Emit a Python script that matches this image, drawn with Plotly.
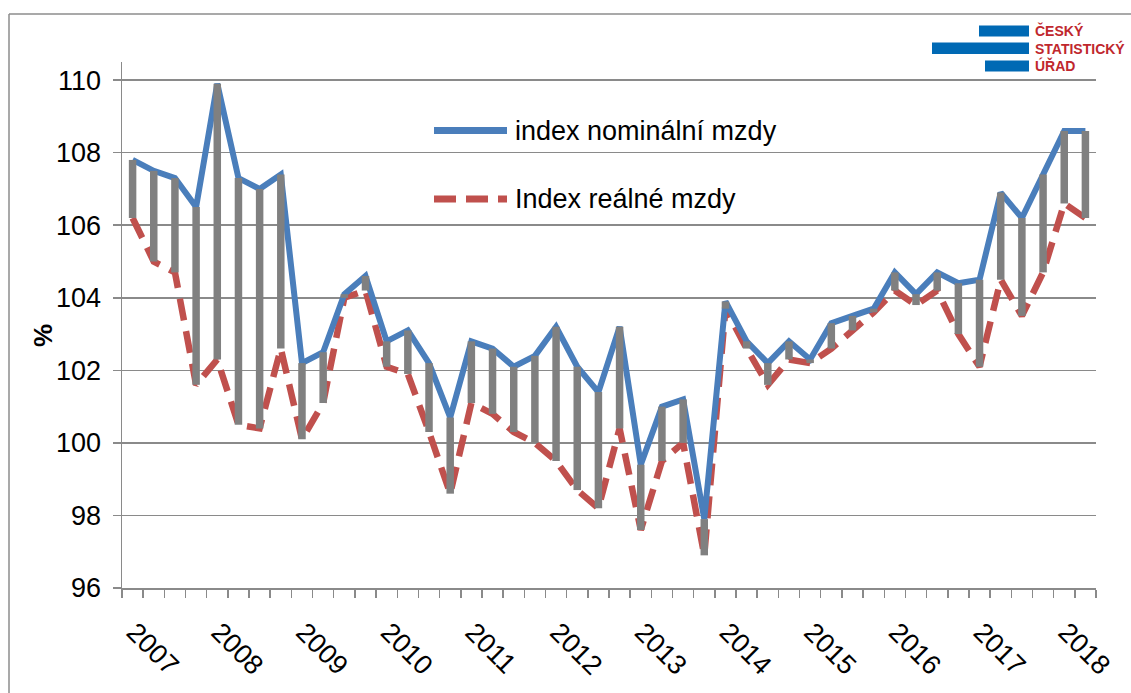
import plotly.graph_objects as go

# ---- data ----
years = ["2007", "2008", "2009", "2010", "2011", "2012", "2013", "2014", "2015", "2016", "2017", "2018"]
nominal = [107.8, 107.5, 107.3, 106.5, 109.9, 107.3, 107.0, 107.4, 102.2, 102.5,
           104.1, 104.6, 102.8, 103.1, 102.2, 100.7, 102.8, 102.6, 102.1, 102.4,
           103.2, 102.1, 101.4, 103.2, 99.4, 101.0, 101.2, 97.9, 103.9, 102.8,
           102.2, 102.8, 102.3, 103.3, 103.5, 103.7, 104.7, 104.1, 104.7, 104.4,
           104.5, 106.9, 106.2, 107.4, 108.6, 108.6]
real = [106.2, 105.0, 104.7, 101.6, 102.3, 100.5, 100.4, 102.6, 100.1, 101.1,
        104.0, 104.2, 102.1, 101.9, 100.3, 98.6, 101.1, 100.8, 100.3, 100.0,
        99.5, 98.7, 98.2, 100.4, 97.6, 99.5, 100.0, 96.9, 103.7, 102.6,
        101.6, 102.3, 102.2, 102.6, 103.1, 103.6, 104.2, 103.8, 104.2, 103.0,
        102.1, 104.5, 103.5, 104.7, 106.6, 106.2]
name_nominal = "index nominální mzdy"
name_real = "Index reálné mzdy"
y_title = "%"
logo_lines = ["ČESKÝ", "STATISTICKÝ", "ÚŘAD"]

n = len(nominal)
xq = list(range(n))

BLUE = "#4A7EBB"
RED = "#C0504D"
GRAY = "#808080"
GRID = "#8A8A8A"
FONT = "Liberation Sans, Arial, sans-serif"

W, H = 1131, 693
# plot area in page pixels: left 122, right 1096, top 62, bottom 588
ML, MT = 122, 62
MR = W - 1096
MB = H - 588
PW, PH = W - ML - MR, H - MT - MB


def px(xp):
    return (xp - ML) / PW


def py(yp):
    return (H - MB - yp) / PH


fig = go.Figure()
fig.add_trace(go.Scatter(x=xq, y=real, mode="lines", name=name_real,
                         line=dict(color=RED, width=6.5, dash="22px,11px"),
                         showlegend=False, hoverinfo="skip"))
fig.add_trace(go.Scatter(x=xq, y=nominal, mode="lines", name=name_nominal,
                         line=dict(color=BLUE, width=6),
                         showlegend=False, hoverinfo="skip"))
# high-low lines
hx, hy = [], []
for i in range(n):
    hx += [i, i, None]
    hy += [real[i], nominal[i], None]
fig.add_trace(go.Scatter(x=hx, y=hy, mode="lines", line=dict(color=GRAY, width=7.5),
                         showlegend=False, hoverinfo="skip"))

shapes = []
# legend background hiding gridlines
shapes.append(dict(type="rect", xref="paper", yref="paper", x0=px(395), x1=px(795),
                   y0=py(245), y1=py(95), fillcolor="white", line=dict(width=0),
                   layer="between"))
# legend samples
shapes.append(dict(type="line", xref="paper", yref="paper", x0=px(434), x1=px(507),
                   y0=py(130.5), y1=py(130.5), line=dict(color=BLUE, width=7)))
shapes.append(dict(type="line", xref="paper", yref="paper", x0=px(434), x1=px(507),
                   y0=py(199), y1=py(199), line=dict(color=RED, width=7, dash="22px,10px")))
# outer frame (left and top)
shapes.append(dict(type="line", xref="paper", yref="paper", x0=px(9), x1=px(9),
                   y0=py(14), y1=py(H + 5), line=dict(color="#8C8C8C", width=1.5)))
shapes.append(dict(type="line", xref="paper", yref="paper", x0=px(9), x1=px(W + 5),
                   y0=py(14), y1=py(14), line=dict(color="#8C8C8C", width=1.5)))
# logo bars
LOGO_BLUE = "#0069B4"
for (x0, x1, y0, y1) in [(979, 1029, 25.5, 36.5), (932, 1029, 42.5, 54), (985, 1029, 60.5, 71.5)]:
    shapes.append(dict(type="rect", xref="paper", yref="paper", x0=px(x0), x1=px(x1),
                       y0=py(y1), y1=py(y0), fillcolor=LOGO_BLUE, line=dict(width=0)))

annotations = []
annotations.append(dict(xref="paper", yref="paper", x=px(513), y=py(131), text=name_nominal,
                        showarrow=False, xanchor="left", yanchor="middle",
                        font=dict(family=FONT, size=27, color="black")))
annotations.append(dict(xref="paper", yref="paper", x=px(513), y=py(199), text=name_real,
                        showarrow=False, xanchor="left", yanchor="middle",
                        font=dict(family=FONT, size=27, color="black")))
annotations.append(dict(xref="paper", yref="paper", x=px(43), y=py(336), text="<b>%s</b>" % y_title,
                        showarrow=False, xanchor="center", yanchor="middle", textangle=-90,
                        font=dict(family=FONT, size=26, color="black")))
for t, yc in zip(logo_lines, [31, 48.5, 66]):
    annotations.append(dict(xref="paper", yref="paper", x=px(1033), y=py(yc), text="<b>%s</b>" % t,
                            showarrow=False, xanchor="left", yanchor="middle",
                            font=dict(family=FONT, size=14, color="#C0272D")))

fig.update_layout(
    width=W, height=H, autosize=False,
    margin=dict(l=ML, r=MR, t=MT, b=MB, pad=0, autoexpand=False),
    paper_bgcolor="white", plot_bgcolor="white",
    font=dict(family=FONT, size=27, color="black"),
    shapes=shapes, annotations=annotations,
    showlegend=False,
)
fig.update_xaxes(
    range=[-0.5, n - 0.5], showgrid=False, zeroline=False, automargin=False,
    showline=True, linecolor=GRID, linewidth=1.5,
    tickmode="array", tickvals=[4 * k for k in range(len(years))], ticktext=years,
    ticks="", tickangle=45, tickfont=dict(family=FONT, size=27, color="black"),
    ticklabelstandoff=16, ticklabelshift=2,
    minor=dict(ticks="outside", tick0=-0.5, dtick=1, ticklen=8, tickcolor=GRID,
               tickwidth=1.5, showgrid=False),
)
fig.update_yaxes(
    range=[96, 110.5], tickmode="linear", tick0=96, dtick=2, automargin=False,
    showgrid=True, gridcolor=GRID, gridwidth=1.5, zeroline=False,
    showline=True, linecolor=GRID, linewidth=1.5,
    ticks="outside", ticklen=8, tickcolor=GRID, tickwidth=1.5,
    tickfont=dict(family=FONT, size=27, color="black"),
    ticklabelstandoff=6,
)

fig.write_html("out.html", config={"displayModeBar": False, "staticPlot": True},
               post_script="document.body.style.margin='0';document.body.style.overflow='hidden';")
